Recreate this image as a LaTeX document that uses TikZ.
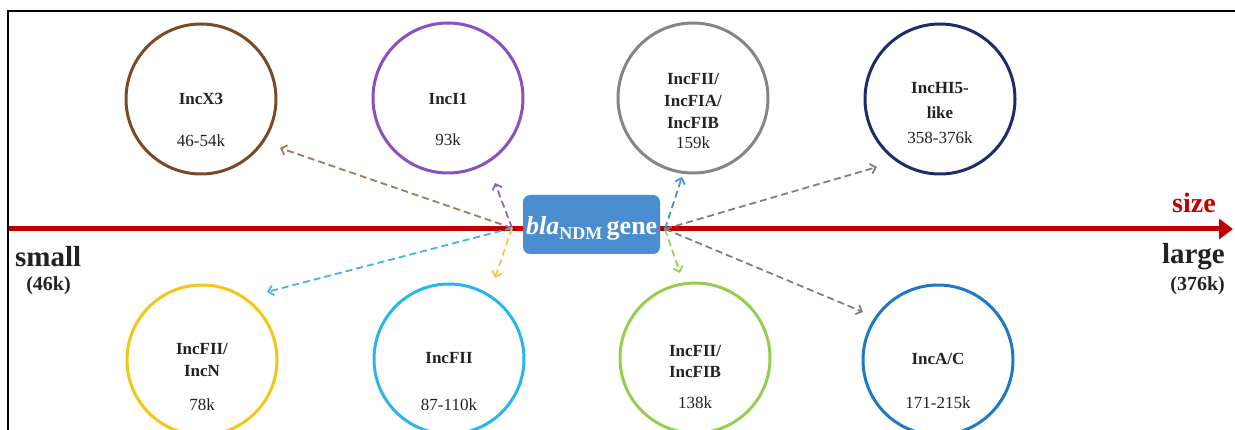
\documentclass[tikz,border=0pt]{standalone}
\usepackage{fontspec}
\setmainfont{Liberation Serif}
\usetikzlibrary{arrows.meta}
\definecolor{axisred}{RGB}{192,0,0}
\definecolor{geneblue}{RGB}{74,142,208}
\definecolor{cbrown}{RGB}{122,74,37}
\definecolor{cpurple}{RGB}{136,80,196}
\definecolor{cgray}{RGB}{133,133,133}
\definecolor{cnavy}{RGB}{28,44,108}
\definecolor{cyellow}{RGB}{245,197,24}
\definecolor{ccyan}{RGB}{41,182,232}
\definecolor{cgreen}{RGB}{146,207,80}
\definecolor{cblue}{RGB}{30,120,200}
\definecolor{abrown}{RGB}{168,120,84}
\definecolor{apurple}{RGB}{140,100,200}
\definecolor{acyan}{RGB}{64,180,230}
\definecolor{ayellow}{RGB}{245,200,74}
\definecolor{ablue}{RGB}{74,144,208}
\definecolor{agray}{RGB}{128,128,128}
\definecolor{agreen}{RGB}{154,205,90}
\definecolor{txt}{RGB}{34,34,34}
\tikzset{
  ring/.style={circle, draw=#1, line width=3pt, minimum size=150pt, inner sep=0pt},
  lbl/.style={font=\fontsize{17}{17}\selectfont\bfseries, anchor=base, inner sep=0pt, text=txt},
  num/.style={font=\fontsize{17}{17}\selectfont, anchor=base, inner sep=0pt, text=txt},
  link/.style={draw=#1, line width=1.8pt, dash pattern=on 7pt off 4pt, -{Straight Barb[length=5pt,width=10pt]}},
}
\begin{document}
\begin{tikzpicture}[x=1pt,y=-1pt]
\useasboundingbox (0,0) rectangle (1235,430);
% frame
\draw[line width=2pt, black] (8,440) -- (8,11) -- (1245,11);
% axis
\coordinate (axs) at (9,229);
\coordinate (axe) at (1233,229);
\draw[axisred, line width=5pt, -{Triangle[length=14pt,width=20pt]}] (axs) -- (axe);
\node[anchor=base, inner sep=0, text=axisred, font=\fontsize{28}{28}\selectfont\bfseries] (size) at (1194,213) {size};
\node[anchor=base west, inner sep=0, text=txt, font=\fontsize{29}{29}\selectfont\bfseries] (small) at (15,267) {small};
\node[anchor=base, inner sep=0, text=txt, font=\fontsize{20}{20}\selectfont\bfseries] (smallk) at (48.5,291) {(46k)};
\node[anchor=base east, inner sep=0, text=txt, font=\fontsize{29}{29}\selectfont\bfseries] (large) at (1225,264) {large};
\node[anchor=base east, inner sep=0, text=txt, font=\fontsize{20}{20}\selectfont\bfseries] (largek) at (1225,291) {(376k)};

% circles top
\node[ring=cbrown] (x3) at (201,99) {};
\node[lbl] (x3a) at (201,105) {IncX3};
\node[num] (x3b) at (201,147) {46-54k};

\node[ring=cpurple] (i1) at (448,98) {};
\node[lbl] (i1a) at (448,105) {IncI1};
\node[num] (i1b) at (448,146) {93k};

\node[ring=cgray] (fia) at (693,98) {};
\node[lbl] (fiaa) at (693,85) {IncFII/};
\node[lbl] (fiab) at (693,107) {IncFIA/};
\node[lbl] (fiac) at (693,129) {IncFIB};
\node[num] (fiad) at (693,149) {159k};

\node[ring=cnavy] (hi5) at (940,99) {};
\node[lbl] (hi5a) at (940,94) {IncHI5-};
\node[lbl] (hi5b) at (940,119) {like};
\node[num] (hi5c) at (940,144) {358-376k};

% circles bottom
\node[ring=cyellow] (nn) at (202,360) {};
\node[lbl] (nna) at (202,355) {IncFII/};
\node[lbl] (nnb) at (202,377) {IncN};
\node[num] (nnc) at (202,410) {78k};

\node[ring=ccyan] (fii) at (449,359) {};
\node[lbl] (fiia) at (449,364) {IncFII};
\node[num] (fiib) at (449,410) {87-110k};

\node[ring=cgreen] (fib) at (695,358) {};
\node[lbl] (fiba) at (695,357) {IncFII/};
\node[lbl] (fibb) at (695,378) {IncFIB};
\node[num] (fibc) at (695,409) {138k};

\node[ring=cblue] (ac) at (938,360) {};
\node[lbl] (aca) at (938,365) {IncA/C};
\node[num] (acb) at (938,409) {171-215k};

% gene box
\node[fill=geneblue, rounded corners=7pt, minimum width=137pt, minimum height=59pt, inner sep=0pt] (gene) at (591.5,224.5) {};
\node[anchor=base west, inner sep=0pt, text=white] (genetxt) at (526,235)
  {\fontsize{26}{26}\selectfont\textbf{\textit{bla}}\raisebox{-5pt}{\fontsize{18}{18}\selectfont\textbf{NDM}}\,\textbf{gene}};

% connector ends
\coordinate (gl) at (512,228);
\coordinate (gr) at (665,229);
\coordinate (tx3) at (280,148);
\coordinate (ti1) at (495,183);
\coordinate (tnn) at (267,292);
\coordinate (tfii) at (495,278);
\coordinate (tfia) at (682,177);
\coordinate (thi5) at (877,167);
\coordinate (tfib) at (680,273);
\coordinate (tac) at (863,312);

\draw[link=abrown] (gl) -- (tx3);
\draw[link=apurple] (gl) -- (ti1);
\draw[link=acyan] (gl) -- (tnn);
\draw[link=ayellow] (gl) -- (tfii);
\draw[link=ablue] (gr) -- (tfia);
\draw[link=agray] (gr) -- (thi5);
\draw[link=agreen] (gr) -- (tfib);
\draw[link=agray] (gr) -- (tac);
\end{tikzpicture}
\end{document}
